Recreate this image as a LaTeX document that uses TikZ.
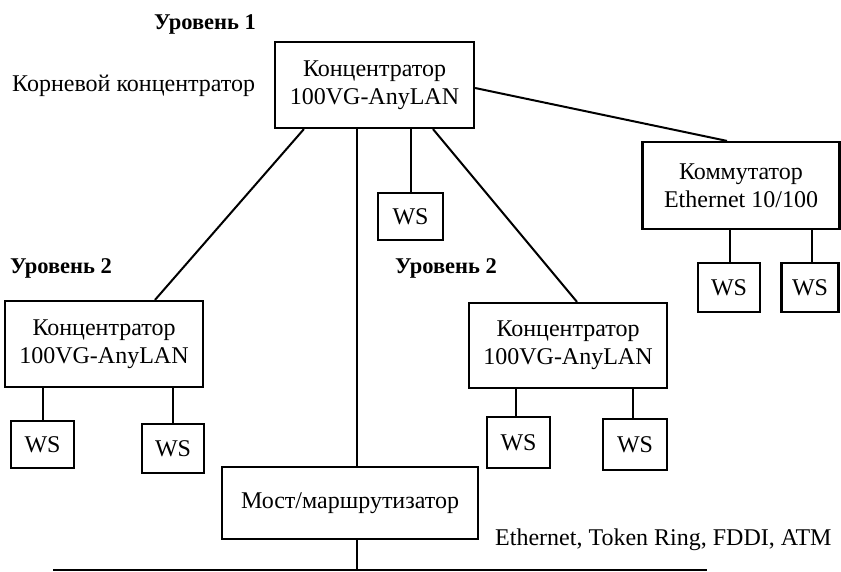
\documentclass[tikz,border=0pt]{standalone}
\usepackage{fontspec}
\setmainfont{Liberation Serif}
\begin{document}
\begin{tikzpicture}[x=1pt,y=-1pt,
  every node/.style={font=\fontsize{24}{28}\selectfont, inner sep=0pt},
  device/.style={draw, line width=2.2pt, align=center},
  ws/.style={draw, line width=2.2pt},
  level/.style={font=\fontsize{22.5}{26}\selectfont\bfseries, anchor=west},
  link/.style={line width=2pt}]
\useasboundingbox (0,0) rectangle (841,571);

% hubs, switch and bridge
\node[device, minimum width=199pt, minimum height=86pt] (root) at (374.5,85)
  {Концентратор\\100VG-AnyLAN};
\node[device, minimum width=197pt, minimum height=87pt] (sw) at (741,185.5)
  {Коммутатор\\Ethernet 10/100};
\node[device, minimum width=198pt, minimum height=86pt] (lhub) at (104,344)
  {Концентратор\\100VG-AnyLAN};
\node[device, minimum width=198pt, minimum height=85pt] (rhub) at (568,345.5)
  {Концентратор\\100VG-AnyLAN};
\node[device, minimum width=256pt, minimum height=72pt] (bridge) at (350,503)
  {Мост/маршрутизатор};

% workstations
\node[ws, minimum width=65pt, minimum height=47pt] (ws0) at (410.5,216.5) {WS};
\node[ws, minimum width=63pt, minimum height=47pt] (ws1) at (42.5,444.5) {WS};
\node[ws, minimum width=62pt, minimum height=49pt] (ws2) at (173,448.5) {WS};
\node[ws, minimum width=63pt, minimum height=51pt] (ws3) at (518.5,442.5) {WS};
\node[ws, minimum width=64pt, minimum height=51pt] (ws4) at (635,444.5) {WS};
\node[ws, minimum width=62pt, minimum height=49pt] (ws5) at (729,287.5) {WS};
\node[ws, minimum width=57pt, minimum height=49pt] (ws6) at (810,287.5) {WS};

% labels
\node[level, anchor=center] (lv1) at (205,24) {Уровень 1};
\node[anchor=west] (rootlbl) at (12,86) {Корневой концентратор};
\node[level] (lv2a) at (10,268) {Уровень 2};
\node[level] (lv2b) at (395,268) {Уровень 2};
\node[anchor=west] (nets) at (495,540) {Ethernet, Token Ring, FDDI, ATM};

% backbone
\coordinate (busL) at (53,569.5);
\coordinate (busR) at (707,569.5);
\draw[link] (busL) -- (busR);

% links from the root hub
\draw[link] ([xshift=30pt]root.south west) -- ([xshift=51pt]lhub.north);
\draw[link] ([xshift=58.5pt]root.south) -- ([xshift=9pt]rhub.north);
\draw[link] ([yshift=-3pt]root.east) -- ([xshift=-14pt]sw.north);
\draw[link] (ws0.north) -- (ws0.north |- root.south);
\draw[link] ([xshift=7pt]bridge.north) -- ([xshift=7pt]bridge.north |- root.south);
\draw[link] ([xshift=7pt]bridge.south) -- ([xshift=7pt]bridge.south |- busL);

% workstation drops
\draw[link] (ws1.north) -- (ws1.north |- lhub.south);
\draw[link] (ws2.north) -- (ws2.north |- lhub.south);
\draw[link] ([xshift=-2.5pt]ws3.north) -- ([xshift=-2.5pt]ws3.north |- rhub.south);
\draw[link] ([xshift=-2pt]ws4.north) -- ([xshift=-2pt]ws4.north |- rhub.south);
\draw[link] ([xshift=1pt]ws5.north) -- ([xshift=1pt]ws5.north |- sw.south);
\draw[link] ([xshift=2pt]ws6.north) -- ([xshift=2pt]ws6.north |- sw.south);
\end{tikzpicture}
\end{document}
